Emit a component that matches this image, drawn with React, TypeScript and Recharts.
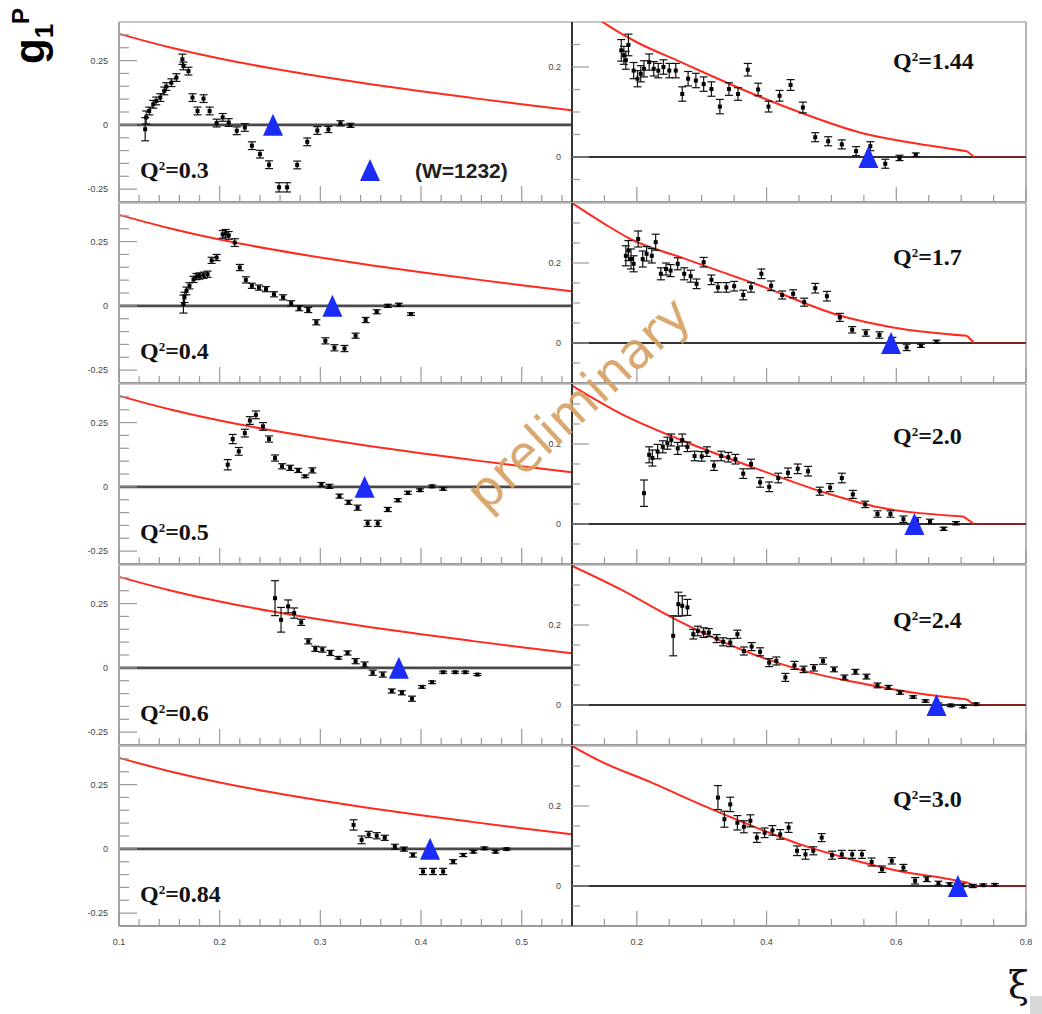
import React from 'react';
import { ComposedChart, Line, Scatter, ErrorBar, XAxis, YAxis, ReferenceLine } from 'recharts';

type Pt = [number, number, number]; // xi, g1p, error
type Cv = [number, number];

// ---- axis ticks / labels ----
const leftXTicks = [0.1, 0.12, 0.14, 0.16, 0.18, 0.2, 0.22, 0.24, 0.26, 0.28, 0.3, 0.32, 0.34, 0.36, 0.38, 0.4, 0.42, 0.44, 0.46, 0.48, 0.5, 0.52, 0.54];
const leftXLabels = [0.1, 0.2, 0.3, 0.4, 0.5];
const rightXTicks = [0.15, 0.2, 0.25, 0.3, 0.35, 0.4, 0.45, 0.5, 0.55, 0.6, 0.65, 0.7, 0.75, 0.8];
const rightXLabels = [0.2, 0.4, 0.6, 0.8];
const leftYTicks = [-0.25, -0.2, -0.15, -0.1, -0.05, 0, 0.05, 0.1, 0.15, 0.2, 0.25, 0.3, 0.35];
const leftYLabels = [-0.25, 0, 0.25];
const rightYTicksTop = [-0.05, 0, 0.05, 0.1, 0.15, 0.2, 0.25];
const rightYTicks = [-0.05, 0, 0.05, 0.1, 0.15, 0.2, 0.25, 0.3];
const rightYLabels = [0, 0.2];

// ---- data, left column (Q2 < 1) ----
const q03: Pt[] = [
  [0.126, -0.017, 0.045], [0.127, 0.029, 0.025], [0.13, 0.054, 0.015], [0.134, 0.08, 0.015], [0.137, 0.093, 0.015],
  [0.141, 0.106, 0.015], [0.145, 0.132, 0.015], [0.147, 0.149, 0.015], [0.152, 0.164, 0.015], [0.157, 0.184, 0.015],
  [0.163, 0.255, 0.02], [0.164, 0.229, 0.015], [0.169, 0.209, 0.015], [0.173, 0.106, 0.015], [0.178, 0.054, 0.015],
  [0.184, 0.102, 0.015], [0.19, 0.054, 0.015], [0.197, 0.007, 0.015], [0.203, 0.029, 0.015], [0.209, 0.009, 0.015],
  [0.217, -0.023, 0.015], [0.225, -0.01, 0.015], [0.232, -0.081, 0.015], [0.24, -0.114, 0.015], [0.249, -0.155, 0.015],
  [0.259, -0.243, 0.018], [0.267, -0.243, 0.018], [0.277, -0.156, 0.015], [0.287, -0.066, 0.015], [0.297, -0.022, 0.015],
  [0.308, -0.018, 0.012], [0.32, 0.006, 0.01], [0.33, -0.002, 0.008],
];
const q04: Pt[] = [
  [0.164, 0.007, 0.035], [0.165, 0.033, 0.02], [0.167, 0.058, 0.015], [0.17, 0.078, 0.012], [0.174, 0.103, 0.012],
  [0.177, 0.114, 0.012], [0.18, 0.116, 0.012], [0.184, 0.119, 0.012], [0.188, 0.123, 0.012], [0.192, 0.177, 0.012],
  [0.197, 0.188, 0.012], [0.203, 0.278, 0.015], [0.206, 0.282, 0.015], [0.209, 0.274, 0.015], [0.215, 0.246, 0.015],
  [0.22, 0.149, 0.012], [0.226, 0.101, 0.012], [0.232, 0.078, 0.01], [0.239, 0.071, 0.01], [0.246, 0.065, 0.01],
  [0.254, 0.045, 0.01], [0.263, 0.033, 0.01], [0.271, 0.01, 0.01], [0.279, -0.009, 0.01], [0.288, -0.016, 0.01],
  [0.296, -0.064, 0.01], [0.305, -0.136, 0.012], [0.314, -0.163, 0.012], [0.324, -0.166, 0.012], [0.335, -0.116, 0.01],
  [0.345, -0.055, 0.01], [0.356, -0.023, 0.008], [0.367, 0.0, 0.006], [0.378, 0.004, 0.006], [0.39, -0.032, 0.005],
];
const q05: Pt[] = [
  [0.208, 0.086, 0.02], [0.213, 0.186, 0.018], [0.219, 0.138, 0.015], [0.225, 0.209, 0.015], [0.23, 0.258, 0.015],
  [0.236, 0.28, 0.015], [0.243, 0.235, 0.015], [0.249, 0.186, 0.012], [0.255, 0.112, 0.012], [0.262, 0.08, 0.01],
  [0.27, 0.074, 0.01], [0.278, 0.064, 0.008], [0.285, 0.041, 0.005], [0.292, 0.064, 0.01], [0.301, 0.009, 0.008],
  [0.309, 0.002, 0.008], [0.319, -0.036, 0.008], [0.328, -0.06, 0.008], [0.337, -0.081, 0.01], [0.347, -0.142, 0.012],
  [0.357, -0.142, 0.012], [0.367, -0.088, 0.008], [0.377, -0.052, 0.006], [0.387, -0.023, 0.006], [0.399, -0.013, 0.005],
  [0.411, 0.002, 0.005], [0.422, -0.008, 0.005],
];
const q06: Pt[] = [
  [0.255, 0.271, 0.068], [0.261, 0.187, 0.048], [0.268, 0.239, 0.025], [0.274, 0.213, 0.02], [0.281, 0.177, 0.012],
  [0.288, 0.103, 0.01], [0.295, 0.074, 0.01], [0.302, 0.071, 0.01], [0.31, 0.058, 0.01], [0.318, 0.039, 0.005],
  [0.327, 0.058, 0.008], [0.335, 0.026, 0.01], [0.344, 0.013, 0.01], [0.352, -0.019, 0.01], [0.362, -0.026, 0.01],
  [0.371, -0.09, 0.008], [0.381, -0.097, 0.008], [0.391, -0.12, 0.01], [0.401, -0.074, 0.005], [0.411, -0.056, 0.005],
  [0.422, -0.017, 0.004], [0.434, -0.017, 0.004], [0.444, -0.017, 0.004], [0.456, -0.026, 0.004],
];
const q084: Pt[] = [
  [0.333, 0.093, 0.02], [0.341, 0.035, 0.015], [0.348, 0.056, 0.012], [0.356, 0.051, 0.012], [0.364, 0.043, 0.01],
  [0.374, 0.008, 0.01], [0.383, -0.001, 0.008], [0.392, -0.024, 0.008], [0.402, -0.088, 0.012], [0.412, -0.088, 0.012],
  [0.422, -0.088, 0.012], [0.432, -0.05, 0.008], [0.442, -0.024, 0.006], [0.452, -0.011, 0.005], [0.463, 0.002, 0.005],
  [0.474, -0.011, 0.005], [0.485, -0.001, 0.004],
];

// ---- data, right column (Q2 > 1) ----
const q144: Pt[] = [
  [0.176, 0.237, 0.024], [0.18, 0.226, 0.02], [0.183, 0.215, 0.02], [0.187, 0.249, 0.024], [0.195, 0.192, 0.018],
  [0.201, 0.174, 0.018], [0.206, 0.185, 0.018], [0.211, 0.196, 0.018], [0.219, 0.211, 0.018], [0.226, 0.196, 0.016],
  [0.233, 0.192, 0.016], [0.241, 0.2, 0.016], [0.25, 0.192, 0.016], [0.26, 0.192, 0.016], [0.27, 0.14, 0.016],
  [0.279, 0.174, 0.016], [0.291, 0.17, 0.016], [0.303, 0.162, 0.016], [0.315, 0.151, 0.016], [0.328, 0.112, 0.016],
  [0.342, 0.151, 0.014], [0.356, 0.14, 0.014], [0.371, 0.194, 0.014], [0.387, 0.15, 0.014], [0.403, 0.112, 0.012],
  [0.42, 0.136, 0.012], [0.437, 0.16, 0.012], [0.456, 0.11, 0.012], [0.475, 0.044, 0.01], [0.495, 0.035, 0.01],
  [0.516, 0.028, 0.01], [0.538, 0.013, 0.01], [0.56, 0.024, 0.01], [0.583, -0.015, 0.01], [0.605, -0.002, 0.006],
  [0.63, 0.005, 0.004],
];
const q17: Pt[] = [
  [0.183, 0.218, 0.025], [0.187, 0.231, 0.025], [0.191, 0.21, 0.025], [0.195, 0.198, 0.02], [0.202, 0.26, 0.02],
  [0.209, 0.21, 0.02], [0.215, 0.223, 0.018], [0.223, 0.218, 0.018], [0.229, 0.252, 0.02], [0.237, 0.173, 0.015],
  [0.245, 0.185, 0.015], [0.252, 0.181, 0.015], [0.263, 0.198, 0.015], [0.273, 0.173, 0.015], [0.283, 0.167, 0.015],
  [0.292, 0.148, 0.012], [0.303, 0.202, 0.012], [0.315, 0.158, 0.012], [0.325, 0.139, 0.012], [0.338, 0.139, 0.012],
  [0.35, 0.142, 0.012], [0.364, 0.12, 0.012], [0.376, 0.139, 0.012], [0.392, 0.173, 0.012], [0.407, 0.143, 0.012],
  [0.424, 0.12, 0.01], [0.441, 0.123, 0.01], [0.458, 0.102, 0.01], [0.475, 0.137, 0.012], [0.493, 0.117, 0.012],
  [0.513, 0.064, 0.01], [0.532, 0.033, 0.008], [0.553, 0.025, 0.008], [0.574, 0.02, 0.008], [0.594, 0.006, 0.008],
  [0.616, -0.011, 0.008], [0.638, -0.007, 0.004], [0.662, 0.003, 0.004],
];
const q20: Pt[] = [
  [0.211, 0.077, 0.033], [0.219, 0.173, 0.02], [0.224, 0.165, 0.02], [0.232, 0.181, 0.018], [0.24, 0.193, 0.015],
  [0.247, 0.202, 0.015], [0.253, 0.21, 0.015], [0.263, 0.189, 0.015], [0.27, 0.21, 0.015], [0.278, 0.193, 0.012],
  [0.289, 0.17, 0.012], [0.3, 0.169, 0.012], [0.308, 0.181, 0.012], [0.319, 0.146, 0.012], [0.33, 0.17, 0.012],
  [0.341, 0.167, 0.012], [0.352, 0.162, 0.012], [0.364, 0.126, 0.012], [0.376, 0.15, 0.012], [0.39, 0.104, 0.012],
  [0.404, 0.093, 0.012], [0.418, 0.115, 0.012], [0.433, 0.128, 0.012], [0.448, 0.138, 0.012], [0.464, 0.132, 0.012],
  [0.482, 0.082, 0.01], [0.498, 0.091, 0.01], [0.516, 0.115, 0.012], [0.533, 0.074, 0.01], [0.552, 0.049, 0.008],
  [0.571, 0.025, 0.008], [0.591, 0.025, 0.008], [0.611, 0.012, 0.008], [0.632, 0.008, 0.008], [0.652, 0.006, 0.006],
  [0.673, -0.012, 0.004], [0.692, 0.002, 0.004],
];
const q24: Pt[] = [
  [0.256, 0.173, 0.05], [0.264, 0.252, 0.03], [0.27, 0.248, 0.025], [0.278, 0.244, 0.02], [0.287, 0.177, 0.012],
  [0.294, 0.185, 0.012], [0.303, 0.181, 0.012], [0.311, 0.181, 0.01], [0.323, 0.166, 0.01], [0.333, 0.158, 0.01],
  [0.344, 0.156, 0.01], [0.355, 0.177, 0.01], [0.365, 0.135, 0.01], [0.377, 0.146, 0.01], [0.39, 0.133, 0.01],
  [0.404, 0.106, 0.01], [0.415, 0.11, 0.01], [0.429, 0.069, 0.01], [0.443, 0.099, 0.01], [0.457, 0.089, 0.008],
  [0.473, 0.093, 0.008], [0.487, 0.11, 0.008], [0.504, 0.089, 0.006], [0.52, 0.069, 0.006], [0.537, 0.083, 0.006],
  [0.554, 0.071, 0.006], [0.571, 0.049, 0.006], [0.588, 0.044, 0.005], [0.606, 0.031, 0.004], [0.626, 0.02, 0.003],
  [0.645, 0.01, 0.003], [0.665, 0.002, 0.003], [0.684, -0.001, 0.003], [0.703, -0.004, 0.003], [0.723, 0.002, 0.003],
];
const q30: Pt[] = [
  [0.325, 0.221, 0.03], [0.335, 0.167, 0.02], [0.344, 0.204, 0.018], [0.355, 0.158, 0.018], [0.365, 0.148, 0.015],
  [0.375, 0.163, 0.015], [0.385, 0.121, 0.012], [0.397, 0.133, 0.012], [0.409, 0.139, 0.012], [0.421, 0.129, 0.012],
  [0.434, 0.146, 0.012], [0.447, 0.088, 0.012], [0.46, 0.079, 0.012], [0.472, 0.088, 0.01], [0.485, 0.121, 0.01],
  [0.501, 0.077, 0.01], [0.516, 0.079, 0.01], [0.532, 0.079, 0.01], [0.547, 0.079, 0.01], [0.562, 0.06, 0.01],
  [0.578, 0.042, 0.008], [0.593, 0.063, 0.008], [0.611, 0.046, 0.008], [0.629, 0.013, 0.008], [0.647, 0.017, 0.006],
  [0.665, 0.007, 0.005], [0.682, 0.004, 0.004], [0.701, 0.002, 0.004], [0.718, 0.0, 0.004], [0.734, 0.002, 0.003],
  [0.752, 0.003, 0.003],
];

// ---- model curves (red) ----
const curveLeft: Cv[] = [[0.1, 0.354], [0.15, 0.302], [0.2, 0.258], [0.25, 0.221], [0.3, 0.188], [0.35, 0.158], [0.4, 0.131], [0.45, 0.105], [0.5, 0.08], [0.55, 0.057]];
const curve144: Cv[] = [[0.1, 0.35], [0.145, 0.302], [0.2, 0.255], [0.268, 0.211], [0.3, 0.19], [0.386, 0.136], [0.45, 0.1], [0.545, 0.054], [0.626, 0.031], [0.709, 0.013]];
const curve17: Cv[] = [[0.1, 0.35], [0.15, 0.298], [0.19, 0.26], [0.268, 0.214], [0.391, 0.143], [0.514, 0.068], [0.595, 0.039], [0.709, 0.018]];
const curve20: Cv[] = [[0.1, 0.346], [0.175, 0.276], [0.268, 0.21], [0.375, 0.144], [0.483, 0.082], [0.575, 0.041], [0.703, 0.019]];
const curve24: Cv[] = [[0.1, 0.348], [0.175, 0.289], [0.255, 0.218], [0.398, 0.116], [0.468, 0.081], [0.534, 0.058], [0.637, 0.028], [0.709, 0.014]];
const curve30: Cv[] = [[0.1, 0.35], [0.145, 0.311], [0.222, 0.259], [0.298, 0.204], [0.375, 0.152], [0.452, 0.104], [0.529, 0.067], [0.606, 0.037], [0.683, 0.017], [0.711, 0.008]];
const curveEnd = 0.72; // model drops to zero here
const curveTail: Cv[] = [[0.72, 0], [0.8, 0]];

// ---- W=1232 (blue triangles) ----
const triLeft = [0.253, 0.312, 0.344, 0.378, 0.409];
const triRight = [0.557, 0.592, 0.628, 0.662, 0.695];

const leftQ2 = ['0.3', '0.4', '0.5', '0.6', '0.84'];
const rightQ2 = ['1.44', '1.7', '2.0', '2.4', '3.0'];

// layout
const TOP0 = 22;
const PITCH = 181;
const PH = 180;
const ML = 50, MR = 6, MT = 4, MB = 30;
const COLS: any = {
  L: { x0: 119, w: 453, xDomain: [0.1, 0.55], xTicks: leftXTicks, xLabels: leftXLabels, xMajor: 16, xMinor: 7, axisColor: '#a5a5a5', zero: '#4a4a4a', zeroW: 2.6 },
  R: { x0: 572, w: 454, xDomain: [0.1, 0.8], xTicks: rightXTicks, xLabels: rightXLabels, xMajor: 15, xMinor: 7, axisColor: '#333', zero: '#333', zeroW: 2 },
};

const RED = '#ff2a1f';
const BLUE = '#1a2cf5';
const near = (v: number, list: number[]) => list.some((l) => Math.abs(l - v) < 1e-6);
const fmt = (v: number) => (Math.abs(v) < 1e-9 ? '0' : String(v));
const toXY = (c: Cv[]) => c.map(([x, y]) => ({ x, y }));

function Panel({ col, row, points, curve, tri, yDomain, yTicks, yLabels, yMajor, yMinor, showX }: any) {
  const g = COLS[col];
  const y0 = TOP0 + row * PITCH;
  const pts = points.map(([x, y, e]: Pt) => ({ x, y, e }));
  const zero = [{ x: g.xDomain[0], y: 0 }, { x: g.xDomain[1], y: 0 }];
  const last = curve[curve.length - 1];
  const drop = col === 'R' ? toXY([last, [curveEnd, 0]]) : [];

  const yTick = (p: any) => {
    const v = p.payload.value;
    const major = near(v, yLabels);
    return (
      <g>
        <line x1={p.x} x2={p.x + (major ? yMajor : yMinor)} y1={p.y} y2={p.y} stroke="#9a9a9a" strokeWidth={1.2} />
        {major && (
          <text x={p.x - 11} y={p.y + 3} textAnchor="end" fontSize={9} fill="#444" fontFamily="Liberation Sans, Arial">
            {fmt(v)}
          </text>
        )}
      </g>
    );
  };
  const xTick = (p: any) => {
    const v = p.payload.value;
    const major = near(v, g.xLabels);
    return (
      <g>
        <line x1={p.x} x2={p.x} y1={p.y} y2={p.y - (major ? g.xMajor : g.xMinor)} stroke="#9a9a9a" strokeWidth={1.2} />
        {major && showX && (
          <text x={p.x} y={p.y + 19} textAnchor="middle" fontSize={9} fill="#444" fontFamily="Liberation Sans, Arial">
            {fmt(v)}
          </text>
        )}
      </g>
    );
  };

  return (
    <div style={{ position: 'absolute', left: g.x0 - ML, top: y0 - MT }}>
      <ComposedChart width={ML + g.w + MR} height={MT + PH + MB} margin={{ top: MT, right: MR, bottom: MB - 20, left: ML - 30 }}>
        <XAxis type="number" dataKey="x" domain={g.xDomain} allowDataOverflow ticks={g.xTicks} interval={0} height={20}
          tickSize={0} tickMargin={0} tickLine={false} axisLine={{ stroke: '#999', strokeWidth: 2 }} tick={xTick} />
        <YAxis type="number" dataKey="y" domain={yDomain} allowDataOverflow ticks={yTicks} interval={0} width={30}
          tickSize={0} tickMargin={0} tickLine={false} axisLine={{ stroke: g.axisColor, strokeWidth: 2 }} tick={yTick} />
        <ReferenceLine y={yDomain[1]} stroke="#b5b5b5" strokeWidth={1.5} />
        {col === 'R' && <ReferenceLine x={g.xDomain[1]} stroke="#a0a0a0" strokeWidth={1.5} />}
        <Line data={zero} dataKey="y" stroke={g.zero} strokeWidth={g.zeroW} dot={false} isAnimationActive={false} />
        <Line data={toXY(curve)} dataKey="y" type="monotone" stroke={RED} strokeWidth={2} dot={false} isAnimationActive={false} />
        {col === 'R' && (
          <Line data={drop} dataKey="y" stroke={RED} strokeWidth={2} dot={false} isAnimationActive={false} />
        )}
        {col === 'R' && (
          <Line data={toXY(curveTail)} dataKey="y" stroke="#8b1f1f" strokeWidth={2.2} dot={false} isAnimationActive={false} />
        )}
        <Scatter data={pts} dataKey="y" isAnimationActive={false}
          shape={(p: any) => <rect x={p.cx - 2} y={p.cy - 2} width={4} height={4} fill="#000" />}>
          <ErrorBar dataKey="e" direction="y" width={4} stroke="#111" strokeWidth={1.2} isAnimationActive={false} />
        </Scatter>
        <Scatter data={[{ x: tri, y: 0 }]} dataKey="y" isAnimationActive={false}
          shape={(p: any) => (
            <polygon points={`${p.cx},${p.cy - 11} ${p.cx - 10},${p.cy + 11} ${p.cx + 10},${p.cy + 11}`} fill={BLUE} />
          )} />
      </ComposedChart>
    </div>
  );
}

const leftData = [q03, q04, q05, q06, q084];
const rightData = [q144, q17, q20, q24, q30];
const rightCurves = [curve144, curve17, curve20, curve24, curve30];
const rightLabelDy = [47, 62, 60, 63, 61];

function Q2({ x, y, v }: any) {
  return (
    <text x={x} y={y} fontFamily="Liberation Serif, Times New Roman, serif" fontWeight="bold" fontSize={24} fill="#111">
      Q<tspan dy={-8} fontSize={13}>2</tspan>
      <tspan dy={8}>={v}</tspan>
    </text>
  );
}

export default function App() {
  return (
    <div style={{ position: 'absolute', left: 0, top: 0, width: 1042, height: 1014, background: '#fff', overflow: 'hidden' }}>
      {leftData.map((d, i) => (
        <Panel key={'L' + i} col="L" row={i} points={d} curve={curveLeft} tri={triLeft[i]}
          yDomain={[-0.3, 0.4]} yTicks={leftYTicks} yLabels={leftYLabels} yMajor={18} yMinor={10} showX={i === 4} />
      ))}
      {rightData.map((d, i) => (
        <Panel key={'R' + i} col="R" row={i} points={d} curve={rightCurves[i]} tri={triRight[i]}
          yDomain={i === 0 ? [-0.1, 0.3] : [-0.1, 0.35]} yTicks={i === 0 ? rightYTicksTop : rightYTicks}
          yLabels={rightYLabels} yMajor={17} yMinor={8} showX={i === 4} />
      ))}
      <svg width={1042} height={1014} style={{ position: 'absolute', left: 0, top: 0, pointerEvents: 'none' }}>
        {leftQ2.map((v, i) => <Q2 key={v} x={140} y={TOP0 + i * PITCH + 156} v={v} />)}
        {rightQ2.map((v, i) => <Q2 key={v} x={893} y={TOP0 + i * PITCH + rightLabelDy[i]} v={v} />)}
        {/* legend */}
        <polygon points="370,159 360,181 380,181" fill={BLUE} />
        <text x={415} y={178} fontFamily="Liberation Sans, Arial" fontWeight="bold" fontSize={21} fill="#222">(W=1232)</text>
        {/* y title */}
        <text transform="translate(44,64) rotate(-90)" fontFamily="Liberation Sans, Arial" fontWeight="bold" fill="#000">
          <tspan fontSize={42}>g</tspan>
          <tspan fontSize={26} dy={9}>1</tspan>
          <tspan fontSize={24} dy={-24}>P</tspan>
        </text>
        {/* x title */}
        <text x={1008} y={998} fontFamily="DejaVu Serif, serif" fontSize={38} fill="#111">ξ</text>
        <rect x={1030} y={996} width={12} height={18} fill="#d8d8d8" />
        {/* watermark */}
        <text x={590} y={416} transform="rotate(-43 590 416)" textAnchor="middle" fontFamily="DejaVu Sans, sans-serif"
          fontSize={50} fill="#d6a265" fillOpacity={0.92}>preliminary</text>
      </svg>
    </div>
  );
}
